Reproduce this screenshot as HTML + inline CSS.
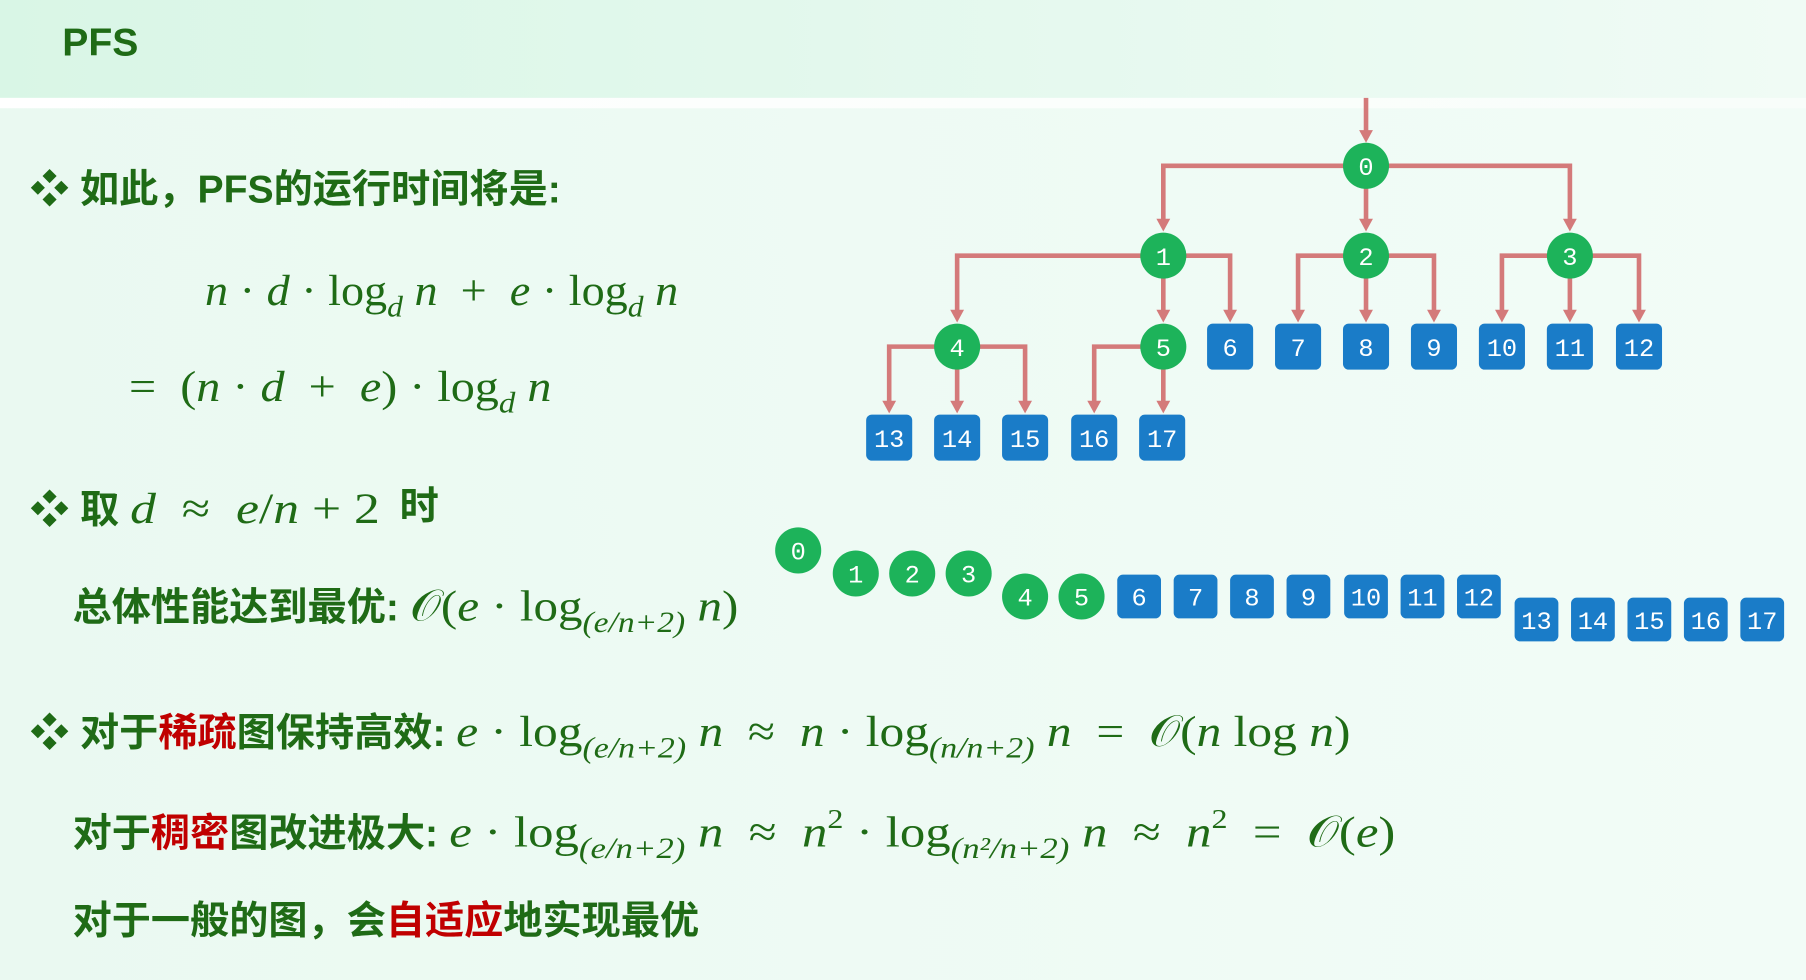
<!DOCTYPE html>
<html><head><meta charset="utf-8"><style>
html,body{margin:0;padding:0;width:1806px;height:980px;overflow:hidden;background:#eefbf4}
#w{position:absolute;left:0;top:0;width:1568px;height:851px;transform:scale(1.15179,1.15159);transform-origin:0 0;background:linear-gradient(90deg,#eaf9f1,#f2fcf7)}
.hd{position:absolute;left:0;top:0;width:1568px;height:85px;background:linear-gradient(90deg,#d9f6e6,#e6f9ef 60%,#f0fbf5)}
.st{position:absolute;left:0;top:85px;width:1568px;height:9px;background:linear-gradient(90deg,#fff,#f8fdfa)}
.t{position:absolute;font-family:"Liberation Sans","Noto Sans CJK SC",sans-serif;font-weight:bold;color:#1f6b16;white-space:nowrap;font-size:34px;line-height:1}
.m{font-family:"Liberation Serif",serif;color:#1f6b16;white-space:nowrap;font-size:38px;line-height:1;font-weight:normal;display:inline-block;transform-origin:0 50%}
div.m{position:absolute}
.m i{font-style:italic}
sub{font-size:26px;vertical-align:-10px;font-style:italic}
sup{font-size:24px;vertical-align:16px}
.r{color:#c00000}
</style></head><body><div id="w">
<div class="hd"></div><div class="st"></div>
<div class="t" style="left:54px;top:20px;font-size:34px">PFS</div>
<div class="t" style="left:26px;top:148px">❖ 如此，PFS的运行时间将是:</div>
<div class="m" style="left:178px;top:234px;transform:scaleX(1.055)"><i>n</i> · <i>d</i> · log<sub>d</sub> <i>n</i> &nbsp;+ &nbsp;<i>e</i> · log<sub>d</sub> <i>n</i></div>
<div class="m" style="left:112px;top:317px;transform:scaleX(1.1)">= &nbsp;(<i>n</i> · <i>d</i> &nbsp;+ &nbsp;<i>e</i>) · log<sub>d</sub> <i>n</i></div>
<div class="t" style="left:26px;top:423px">❖ 取 <span class="m" style="transform:scaleX(1.18)"><i>d</i> &nbsp;≈ &nbsp;<i>e</i>/<i>n</i> + 2</span></div>
<div class="t" style="left:347px;top:423px">时</div>
<div class="t" style="left:63px;top:508px">总体性能达到最优: <span class="m" style="transform:scaleX(1.12)">𝒪(<i>e</i> · log<sub>(e/n+2)</sub> <i>n</i>)</span></div>
<div class="t" style="left:26px;top:617px">❖ 对于<span class="r">稀疏</span>图保持高效: <span class="m" style="transform:scaleX(1.13)"><i>e</i> · log<sub>(e/n+2)</sub> <i>n</i> &nbsp;≈ &nbsp;<i>n</i> · log<sub>(n/n+2)</sub> <i>n</i> &nbsp;= &nbsp;𝒪(<i>n</i> log <i>n</i>)</span></div>
<div class="t" style="left:63px;top:700px">对于<span class="r">稠密</span>图改进极大: <span class="m" style="transform:scaleX(1.16)"><i>e</i> · log<sub>(e/n+2)</sub> <i>n</i> &nbsp;≈ &nbsp;<i>n</i><sup>2</sup> · log<sub>(n²/n+2)</sub> <i>n</i> &nbsp;≈ &nbsp;<i>n</i><sup>2</sup> &nbsp;= &nbsp;𝒪(<i>e</i>)</span></div>
<div class="t" style="left:63px;top:783px">对于一般的图，会<span class="r">自适应</span>地实现最优</div>
<svg style="position:absolute;left:0;top:0" width="1568" height="851" font-family="Liberation Mono,monospace" font-size="22" fill="#fff">
<g stroke="#d47a7a" stroke-width="4" fill="none">
<path d="M1186,85V115"/>
<path d="M1186,144H1010V192"/><path d="M1186,144H1363V192"/><path d="M1186,144V192"/>
<path d="M1010,222H831V271"/><path d="M1010,222V271"/><path d="M1010,222H1068V271"/>
<path d="M1186,222H1127V271"/><path d="M1186,222V271"/><path d="M1186,222H1245V271"/>
<path d="M1363,222H1304V271"/><path d="M1363,222V271"/><path d="M1363,222H1423V271"/>
<path d="M831,301H772V350"/><path d="M831,301V350"/><path d="M831,301H890V350"/>
<path d="M1010,301H950V350"/><path d="M1010,301V350"/>
</g>
<g fill="#d47a7a">
<path d="M1180,113h12l-6,11z"/>
<path d="M1004,190h12l-6,11z"/><path d="M1180,190h12l-6,11z"/><path d="M1357,190h12l-6,11z"/>
<path d="M825,269h12l-6,11z"/><path d="M1004,269h12l-6,11z"/><path d="M1062,269h12l-6,11z"/><path d="M1121,269h12l-6,11z"/><path d="M1180,269h12l-6,11z"/><path d="M1239,269h12l-6,11z"/><path d="M1298,269h12l-6,11z"/><path d="M1357,269h12l-6,11z"/><path d="M1417,269h12l-6,11z"/>
<path d="M766,348h12l-6,11z"/><path d="M825,348h12l-6,11z"/><path d="M884,348h12l-6,11z"/><path d="M944,348h12l-6,11z"/><path d="M1004,348h12l-6,11z"/>
</g>
<g fill="#1db35a">
<circle cx="1186" cy="144" r="20"/><circle cx="1010" cy="222" r="20"/><circle cx="1186" cy="222" r="20"/><circle cx="1363" cy="222" r="20"/><circle cx="831" cy="301" r="20"/><circle cx="1010" cy="301" r="20"/>
<circle cx="693" cy="478" r="20"/><circle cx="743" cy="498" r="20"/><circle cx="792" cy="498" r="20"/><circle cx="841" cy="498" r="20"/><circle cx="890" cy="518" r="20"/><circle cx="939" cy="518" r="20"/>
</g>
<g fill="#1a7cc8">
<rect x="1048" y="281" width="40" height="40" rx="5"/><rect x="1107" y="281" width="40" height="40" rx="5"/><rect x="1166" y="281" width="40" height="40" rx="5"/><rect x="1225" y="281" width="40" height="40" rx="5"/><rect x="1284" y="281" width="40" height="40" rx="5"/><rect x="1343" y="281" width="40" height="40" rx="5"/><rect x="1403" y="281" width="40" height="40" rx="5"/>
<rect x="752" y="360" width="40" height="40" rx="5"/><rect x="811" y="360" width="40" height="40" rx="5"/><rect x="870" y="360" width="40" height="40" rx="5"/><rect x="930" y="360" width="40" height="40" rx="5"/><rect x="989" y="360" width="40" height="40" rx="5"/>
<rect x="970" y="499" width="38" height="38" rx="5"/><rect x="1019" y="499" width="38" height="38" rx="5"/><rect x="1068" y="499" width="38" height="38" rx="5"/><rect x="1117" y="499" width="38" height="38" rx="5"/><rect x="1167" y="499" width="38" height="38" rx="5"/><rect x="1216" y="499" width="38" height="38" rx="5"/><rect x="1265" y="499" width="38" height="38" rx="5"/>
<rect x="1315" y="519" width="38" height="38" rx="5"/><rect x="1364" y="519" width="38" height="38" rx="5"/><rect x="1413" y="519" width="38" height="38" rx="5"/><rect x="1462" y="519" width="38" height="38" rx="5"/><rect x="1511" y="519" width="38" height="38" rx="5"/>
</g>
<g text-anchor="middle">
<text x="1186" y="152">0</text><text x="1010" y="230">1</text><text x="1186" y="230">2</text><text x="1363" y="230">3</text><text x="831" y="309">4</text><text x="1010" y="309">5</text>
<text x="1068" y="309">6</text><text x="1127" y="309">7</text><text x="1186" y="309">8</text><text x="1245" y="309">9</text><text x="1304" y="309">10</text><text x="1363" y="309">11</text><text x="1423" y="309">12</text>
<text x="772" y="388">13</text><text x="831" y="388">14</text><text x="890" y="388">15</text><text x="950" y="388">16</text><text x="1009" y="388">17</text>
<text x="693" y="486">0</text><text x="743" y="506">1</text><text x="792" y="506">2</text><text x="841" y="506">3</text><text x="890" y="526">4</text><text x="939" y="526">5</text>
<text x="989" y="526">6</text><text x="1038" y="526">7</text><text x="1087" y="526">8</text><text x="1136" y="526">9</text><text x="1186" y="526">10</text><text x="1235" y="526">11</text><text x="1284" y="526">12</text>
<text x="1334" y="546">13</text><text x="1383" y="546">14</text><text x="1432" y="546">15</text><text x="1481" y="546">16</text><text x="1530" y="546">17</text>
</g>
</svg>
</div></body></html>
